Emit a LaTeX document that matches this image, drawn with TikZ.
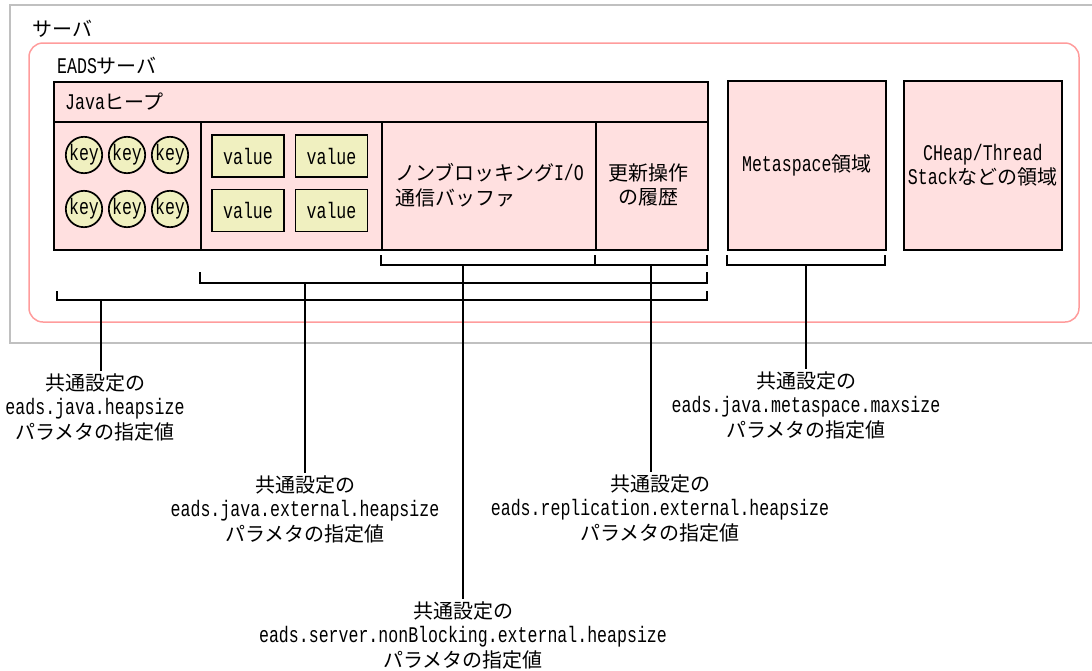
\documentclass[tikz,border=0pt]{standalone}
\usepackage{fontspec}
\setmainfont{Noto Sans CJK JP}
\newfontfamily\hwfont{Liberation Mono}[Scale=1.12,FakeStretch=0.74]
\usetikzlibrary{positioning}
\definecolor{heapPink}{HTML}{FFE0E0}
\definecolor{heapRose}{HTML}{FF9C9C}
\definecolor{heapGray}{HTML}{C0C0C0}
\definecolor{heapCream}{HTML}{F0F0C0}
\newcommand{\hw}[1]{{\hwfont #1}}

\begin{document}
\begin{tikzpicture}[x=1pt,y=-1pt,line join=miter,font=\fontsize{20pt}{24.5pt}\selectfont]
\useasboundingbox (0,0) rectangle (1092,670);
\tikzset{area/.style={draw=black,fill=heapPink,line width=1.7pt,inner sep=0pt},
  keyball/.style={circle,draw=black,fill=heapCream,line width=1.7pt,minimum size=36pt,inner sep=0pt},
  valbox/.style={draw=black,fill=heapCream,line width=1.7pt,minimum width=72pt,minimum height=42pt,inner sep=0pt},
  brace/.style={draw=black,line width=1.7pt},
  param/.style={align=center,inner sep=2pt}}
% server and EADS server frames
\path[draw=heapGray,line width=2pt] (10,5) rectangle (1110,343);
\node[anchor=west,inner sep=0pt] (srvlbl) at (32,29) {サーバ};
\path[draw=heapRose,line width=1.5pt,rounded corners=14pt] (29,43) rectangle (1079,322);
\node[anchor=west,inner sep=0pt] (eadslbl) at (57,66) {\hw{EADS}サーバ};
% Java heap
\node[area,anchor=north west,minimum width=654pt,minimum height=40pt] (javahdr) at (53,81) {};
\node[anchor=west,inner sep=0pt] (javalbl) at (65,102) {\hw{Java}ヒープ};
\node[area,anchor=north west,minimum width=147pt,minimum height=128pt] (keycol) at (53,121) {};
\node[area,anchor=north west,minimum width=181pt,minimum height=128pt] (valcol) at (200,121) {};
\node[area,anchor=north west,minimum width=214pt,minimum height=128pt] (niocol) at (381,121) {};
\node[area,anchor=north west,minimum width=112pt,minimum height=128pt] (histcol) at (595,121) {};
\foreach \kx in {84,127,170}
  \foreach \ky in {155,209}
    \node[keyball] (key\kx-\ky) at (\kx,\ky) {\hw{key}};
\foreach \vx in {248,331.5}
  \foreach \vy in {156,210.5}
    \node[valbox] (val\vx-\vy) at (\vx,\vy) {\hw{value}};
\node[anchor=west,align=left,inner sep=0pt] (niotext) at (395,185) {ノンブロッキング\hw{I/O}\\通信バッファ};
\node[align=center,inner sep=0pt] (histtext) at (648,185) {更新操作\\の履歴};
% other areas
\node[area,anchor=north west,minimum width=158pt,minimum height=169pt,align=center] (meta) at (727,80) {\hw{Metaspace}領域};
\node[area,anchor=north west,minimum width=158pt,minimum height=169pt,align=center] (cheap) at (903,80) {\hw{CHeap/Thread}\\\hw{Stack}などの領域};
% brackets
\draw[brace] (381,255) -- (381,265) -- (595,265) -- (595,255);
\draw[brace] (595,265) -- (707,265) -- (707,255);
\draw[brace] (727,255) -- (727,265) -- (885,265) -- (885,255);
\draw[brace] (200,272) -- (200,283) -- (707,283) -- (707,272);
\draw[brace] (57,291) -- (57,300) -- (707,300) -- (707,291);
\coordinate (heapstem) at (101,300);
\coordinate (extstem) at (305,283);
\coordinate (niostem) at (463,265);
\coordinate (replstem) at (651,265);
\coordinate (metastem) at (806,265);
% parameter labels
\node[param] (heaplbl) at (95,407) {共通設定の\\\hw{eads.java.heapsize}\\パラメタの指定値};
\node[param] (extlbl) at (305,509) {共通設定の\\\hw{eads.java.external.heapsize}\\パラメタの指定値};
\node[param] (niolbl) at (463,635) {共通設定の\\\hw{eads.server.nonBlocking.external.heapsize}\\パラメタの指定値};
\node[param] (repllbl) at (660,508) {共通設定の\\\hw{eads.replication.external.heapsize}\\パラメタの指定値};
\node[param] (metalbl) at (806,405) {共通設定の\\\hw{eads.java.metaspace.maxsize}\\パラメタの指定値};
\draw[brace] (heapstem) -- (heapstem |- heaplbl.north);
\draw[brace] (extstem) -- (extstem |- extlbl.north);
\draw[brace] (niostem) -- (niostem |- niolbl.north);
\draw[brace] (replstem) -- (replstem |- repllbl.north);
\draw[brace] (metastem) -- (metastem |- metalbl.north);
\end{tikzpicture}
\end{document}
